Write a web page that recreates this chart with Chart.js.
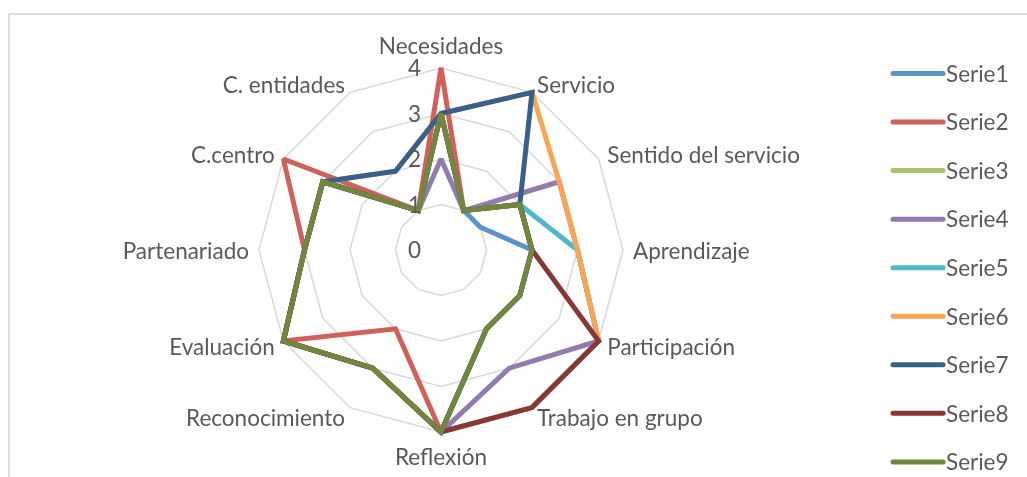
<!DOCTYPE html>
<html>
<head>
<meta charset="utf-8">
<script src="https://cdn.jsdelivr.net/npm/chart.js@4.4.0/dist/chart.umd.min.js"></script>
<style>
    html, body { margin: 0; padding: 0; background: #fff; overflow: hidden; }
    #wrap { position: relative; width: 1027px; height: 477px; }
    #frame { position: absolute; left: 8px; top: 13px; width: 1060px; height: 520px; border: 2px solid #dcdcdc; box-sizing: border-box; }
    #myChart { position: absolute; left: 0; top: 0; }
</style>
</head>
<body>
<div id="wrap">
    <div id="frame"></div>
    <canvas id="myChart" width="1027" height="477"></canvas>
</div>
<script>
// categorias del radar (sentido horario desde arriba)
const categories = ['Necesidades', 'Servicio', 'Sentido del servicio', 'Aprendizaje', 'Participación',
    'Trabajo en grupo', 'Reflexión', 'Reconocimiento', 'Evaluación', 'Partenariado', 'C.centro', 'C. entidades']

// valores de cada serie
const serie1 = [3, 1, 1, 2, 2, 2, 4, 3, 4, 3, 3, 1]
const serie2 = [4, 1, 2, 2, 2, 2, 4, 2, 4, 3, 4, 1]
const serie3 = [3, 1, 2, 2, 2, 2, 4, 3, 4, 3, 3, 1]
const serie4 = [2, 1, 3, 3, 4, 3, 4, 3, 4, 3, 3, 1]
const serie5 = [3, 1, 2, 3, 4, 4, 4, 3, 4, 3, 3, 1]
const serie6 = [3, 4, 3, 3, 4, 4, 4, 3, 4, 3, 3, 2]
const serie7 = [3, 4, 2, 2, 2, 2, 4, 3, 4, 3, 3, 2]
const serie8 = [3, 1, 2, 2, 4, 4, 4, 3, 4, 3, 3, 1]
const serie9 = [3, 1, 2, 2, 2, 2, 4, 3, 4, 3, 3, 1]

const seriesNames = ['Serie1', 'Serie2', 'Serie3', 'Serie4', 'Serie5', 'Serie6', 'Serie7', 'Serie8', 'Serie9']
const seriesValues = [serie1, serie2, serie3, serie4, serie5, serie6, serie7, serie8, serie9]
const seriesColors = ['#5b93cc', '#d0605a', '#a6c46c', '#927ab2', '#4fb8d0', '#faa554', '#37608a', '#873836', '#72873d']

// marcas del eje
const tickValues = [0, 1, 2, 3, 4]

const FONT = '22.5px Lato'
const TEXT_COLOR = '#595959'

// etiquetas de los ejes (como Excel, centradas en el punto)
const pointLabelsPlugin = {
    id: 'pointLabelsExcel',
    afterDraw(chart) {
        const scale = chart.scales.r
        const ctx = chart.ctx
        ctx.save()
        ctx.font = FONT
        ctx.fillStyle = TEXT_COLOR
        for (let i = 0; i < categories.length; i++) {
            const deg = i * 360 / categories.length
            const p = scale.getPointPosition(i, scale.drawingArea + 10)
            let y = p.y
            if (deg === 0) {
                ctx.textAlign = 'center'
                ctx.textBaseline = 'bottom'
            } else if (deg === 180) {
                ctx.textAlign = 'center'
                ctx.textBaseline = 'top'
                y += 4
            } else {
                ctx.textAlign = deg < 180 ? 'left' : 'right'
                ctx.textBaseline = 'middle'
                y += 2
            }
            ctx.fillText(categories[i], p.x, y)
        }
        ctx.restore()
    }
}

// numeros del eje, a la izquierda del eje vertical
const tickLabelsPlugin = {
    id: 'tickLabelsLeft',
    afterDraw(chart) {
        const scale = chart.scales.r
        const ctx = chart.ctx
        ctx.save()
        ctx.font = FONT
        ctx.fillStyle = TEXT_COLOR
        ctx.textAlign = 'right'
        ctx.textBaseline = 'middle'
        scale.ticks.forEach(t => {
            const d = scale.getDistanceFromCenterForValue(t.value)
            ctx.fillText(t.label, scale.xCenter - 20, scale.yCenter - d + 1)
        })
        ctx.restore()
    }
}

// leyenda a la derecha
const legendPlugin = {
    id: 'legendRight',
    afterDraw(chart) {
        const ctx = chart.ctx
        ctx.save()
        ctx.font = FONT
        ctx.textAlign = 'left'
        ctx.textBaseline = 'middle'
        chart.data.datasets.forEach((ds, i) => {
            const y = 73.5 + i * 48.55
            ctx.strokeStyle = ds.borderColor
            ctx.lineWidth = 5
            ctx.lineCap = 'round'
            ctx.beginPath()
            ctx.moveTo(893, y)
            ctx.lineTo(943, y)
            ctx.stroke()
            ctx.fillStyle = TEXT_COLOR
            ctx.fillText(ds.label, 946, y + 1)
        })
        ctx.restore()
    }
}

// picos agudos cortados como en Excel
const miterPlugin = {
    id: 'miter',
    beforeDatasetsDraw(chart) {
        chart.ctx.miterLimit = 2
    }
}

const showChart = () => {
    const datasets = []
    for (let i = 0; i < seriesNames.length; i++) {
        datasets.push({
            label: seriesNames[i],
            data: seriesValues[i],
            borderColor: seriesColors[i],
            backgroundColor: seriesColors[i],
            borderWidth: 5,
            pointRadius: 0,
            pointHoverRadius: 0,
            fill: false,
            clip: false,
            order: seriesNames.length - i
        })
    }

    const ctx = document.getElementById('myChart').getContext('2d')
    const myChart = new Chart(ctx, {
        type: 'radar',
        data: {
            labels: categories,
            datasets: datasets
        },
        options: {
            responsive: false,
            animation: false,
            devicePixelRatio: 1,
            layout: {
                padding: { top: 68, bottom: 45, left: 259, right: 404 }
            },
            plugins: {
                legend: { display: false },
                tooltip: { enabled: false }
            },
            scales: {
                r: {
                    min: tickValues[0],
                    max: tickValues[tickValues.length - 1],
                    afterBuildTicks: (scale) => {
                        scale.ticks = tickValues.map(v => ({ value: v }))
                    },
                    ticks: { display: false, stepSize: 1 },
                    grid: { color: '#d9d9d9', lineWidth: 1.5 },
                    angleLines: { display: false },
                    pointLabels: { display: false }
                }
            }
        },
        plugins: [miterPlugin, pointLabelsPlugin, tickLabelsPlugin, legendPlugin]
    })
}

window.onload = function () {
    showChart()
}
</script>
</body>
</html>
